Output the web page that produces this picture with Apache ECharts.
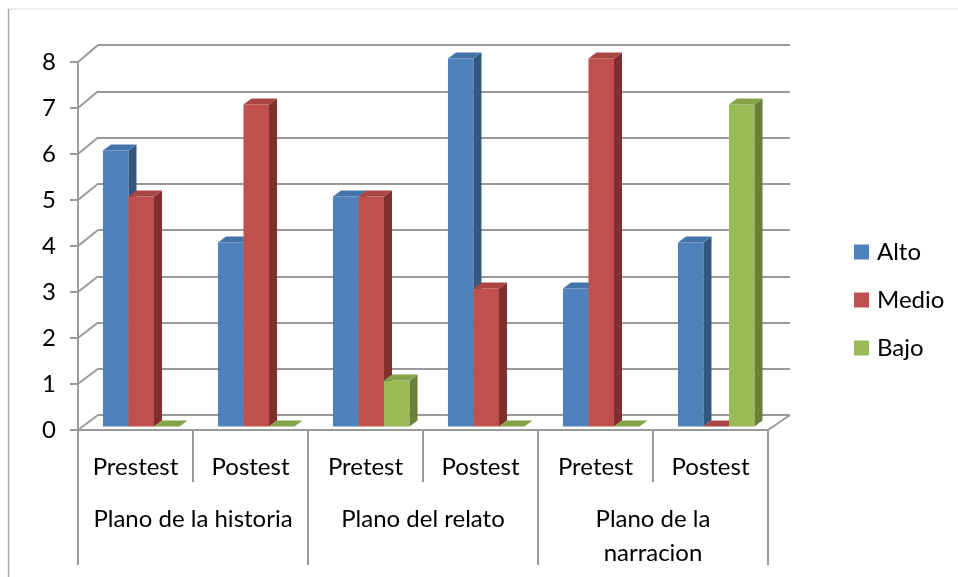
<!DOCTYPE html>
<html>
<head>
<meta charset="utf-8">
<script src="https://cdn.jsdelivr.net/npm/echarts@6/dist/echarts.min.js"></script>
<style>
  html, body { margin: 0; padding: 0; background: #fff; }
  #chart { width: 958px; height: 577px; }
</style>
</head>
<body>
<div id="chart"></div>
<script>
// Sub-categories (first row under the axis) and their groups (second row)
const categories = ['Prestest', 'Postest', 'Pretest', 'Postest', 'Pretest', 'Postest'];
const groups = ['Plano de la historia', 'Plano del relato', 'Plano de la\nnarracion'];

// Counts per level
const alto  = [6, 4, 5, 8, 3, 4];
const medio = [5, 7, 5, 3, 8, 0];
const bajo  = [0, 0, 1, 0, 0, 7];

// Value axis ticks
const yTicks = [0, 1, 2, 3, 4, 5, 6, 7, 8];

const FONT = 'Lato';
const FONT_SIZE = 24;
const GRID_LINE = '#9a9a9a';

// Pseudo-3D column: front face, right side and top
function column(slot, front, side, top) {
  return function (params, api) {
    const cat = api.value(0);
    const v = api.value(1);
    const base = api.coord([cat, 0]);
    const peak = api.coord([cat, v]);
    const bw = api.size([1, 0])[0];
    const w = bw * 0.222;
    const x = base[0] - bw / 2 + bw * 0.217 + slot * w;
    const yb = base[1] - 3.5;
    const yt = peak[1] - 3.5;
    const dx = 8, dy = 6;
    const children = [];
    if (v > 0) {
      children.push({
        type: 'rect',
        shape: { x: x, y: yt, width: w, height: yb - yt },
        style: { fill: front }
      });
      children.push({
        type: 'polygon',
        shape: { points: [[x + w, yt], [x + w + dx, yt - dy], [x + w + dx, yb - dy], [x + w, yb]] },
        style: { fill: side }
      });
    }
    children.push({
      type: 'polygon',
      shape: { points: [[x, yt], [x + dx, yt - dy], [x + w + dx, yt - dy], [x + w, yt]] },
      style: { fill: top }
    });
    return { type: 'group', children: children };
  };
}

// Left wall: diagonals joining the front axis ticks to the back wall lines
function wallEdge(params, api) {
  const v = api.value(0);
  const p = api.coord([0, v]);
  const bw = api.size([1, 0])[0];
  const left = p[0] - bw / 2;
  const back = 15 + v * 0.25;
  const lines = [{
    type: 'line',
    shape: { x1: left, y1: p[1], x2: left + 20, y2: p[1] - back },
    style: { stroke: GRID_LINE, lineWidth: 2 }
  }];
  if (v === 0) {
    // right edge of the floor
    const r = api.coord([categories.length - 1, 0]);
    const right = r[0] + bw / 2;
    lines.push({
      type: 'line',
      shape: { x1: right, y1: r[1], x2: right + 22, y2: r[1] - back },
      style: { stroke: GRID_LINE, lineWidth: 2 }
    });
  }
  return { type: 'group', children: lines };
}

const chart = echarts.init(document.getElementById('chart'), null, { renderer: 'canvas' });

chart.setOption({
  animation: false,
  backgroundColor: '#ffffff',
  color: ['#4F81BD', '#C0504D', '#9BBB59'],
  textStyle: { fontFamily: FONT, color: '#000' },
  graphic: [
    { type: 'line', shape: { x1: 8, y1: 9, x2: 958, y2: 9 }, style: { stroke: '#dcdcdc', lineWidth: 1 }, z: -1 },
    { type: 'line', shape: { x1: 8.5, y1: 9, x2: 8.5, y2: 577 }, style: { stroke: '#a6a6a6', lineWidth: 1.5 }, z: -1 }
  ],
  legend: {
    orient: 'vertical',
    left: 849,
    top: 235,
    itemWidth: 15,
    itemHeight: 15,
    itemGap: 24,
    icon: 'rect',
    textStyle: { fontFamily: FONT, fontSize: FONT_SIZE, color: '#000', padding: [0, 0, 0, 3] },
    data: ['Alto', 'Medio', 'Bajo']
  },
  grid: [
    { left: 78, top: 62, width: 690, height: 368 },   // front plane
    { left: 98, top: 45, width: 692, height: 370 }    // back wall
  ],
  xAxis: [
    {
      type: 'category',
      gridIndex: 0,
      data: categories,
      boundaryGap: true,
      axisLine: { show: true, lineStyle: { color: GRID_LINE, width: 2 } },
      axisTick: { show: true, interval: 0, length: 52, lineStyle: { color: GRID_LINE, width: 2 } },
      axisLabel: { interval: 0, margin: 37, verticalAlign: 'middle', fontSize: FONT_SIZE, fontFamily: FONT, color: '#000' },
      splitLine: { show: false }
    },
    {
      type: 'category',
      gridIndex: 0,
      position: 'bottom',
      data: groups,
      boundaryGap: true,
      axisLine: { show: false },
      axisTick: { show: true, interval: 0, length: 135, lineStyle: { color: GRID_LINE, width: 2 } },
      axisLabel: { interval: 0, margin: 72, verticalAlign: 'top', lineHeight: 34, fontSize: FONT_SIZE, fontFamily: FONT, color: '#000' },
      splitLine: { show: false }
    },
    { type: 'value', gridIndex: 1, show: false }
  ],
  yAxis: [
    {
      type: 'value',
      gridIndex: 0,
      min: yTicks[0],
      max: yTicks[yTicks.length - 1],
      interval: 1,
      axisLine: { show: true, lineStyle: { color: GRID_LINE, width: 2 } },
      axisTick: { show: true, length: 8, lineStyle: { color: GRID_LINE, width: 2 } },
      axisLabel: { margin: 22, fontSize: FONT_SIZE, fontFamily: FONT, color: '#000' },
      splitLine: { show: false }
    },
    {
      type: 'value',
      gridIndex: 1,
      min: yTicks[0],
      max: yTicks[yTicks.length - 1],
      interval: 1,
      axisLine: { show: false },
      axisTick: { show: false },
      axisLabel: { show: false },
      splitLine: { show: true, lineStyle: { color: GRID_LINE, width: 2 } }
    }
  ],
  series: [
    {
      type: 'custom',
      name: 'wall',
      xAxisIndex: 0,
      yAxisIndex: 0,
      silent: true,
      renderItem: wallEdge,
      data: yTicks.map(function (v) { return [v]; }),
      encode: { y: 0 },
      z: 1
    },
    {
      type: 'custom',
      name: 'Alto',
      xAxisIndex: 0,
      yAxisIndex: 0,
      renderItem: column(0, '#4F81BD', '#34577f', '#4574ab'),
      data: alto.map(function (v, i) { return [i, v]; }),
      itemStyle: { color: '#4F81BD' },
      z: 2
    },
    {
      type: 'custom',
      name: 'Medio',
      xAxisIndex: 0,
      yAxisIndex: 0,
      renderItem: column(1, '#C0504D', '#7f302e', '#a94543'),
      data: medio.map(function (v, i) { return [i, v]; }),
      itemStyle: { color: '#C0504D' },
      z: 3
    },
    {
      type: 'custom',
      name: 'Bajo',
      xAxisIndex: 0,
      yAxisIndex: 0,
      renderItem: column(2, '#9BBB59', '#6a803a', '#84a44a'),
      data: bajo.map(function (v, i) { return [i, v]; }),
      itemStyle: { color: '#9BBB59' },
      z: 4
    }
  ]
});
</script>
</body>
</html>
